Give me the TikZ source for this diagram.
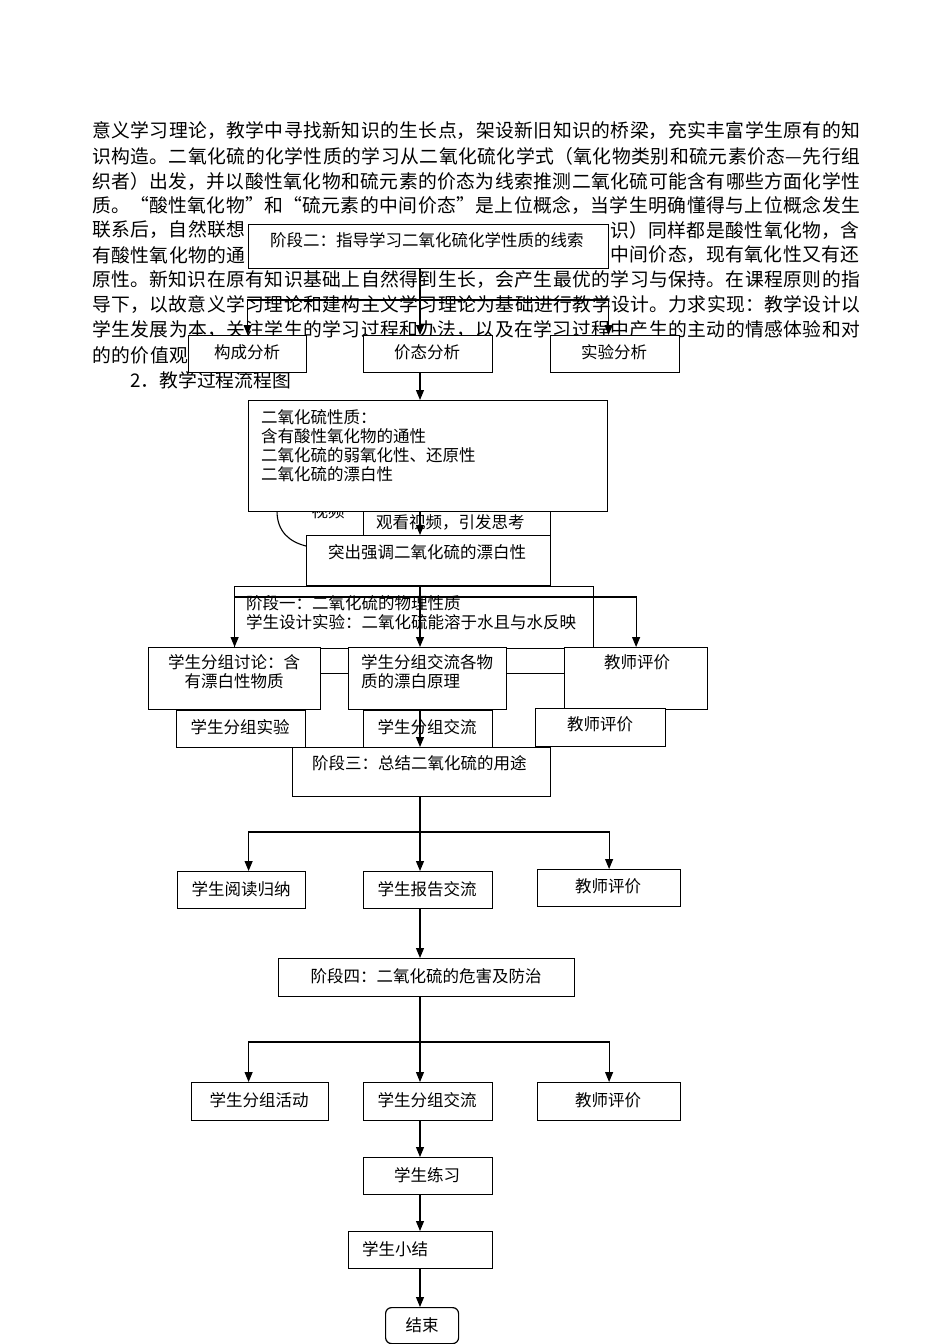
\documentclass[tikz,border=0pt]{standalone}
\usepackage{fontspec}
\setmainfont{Noto Sans CJK SC}
\usetikzlibrary{arrows.meta}
\XeTeXlinebreaklocale "zh"
\XeTeXlinebreakskip=0pt plus 3pt
\tikzset{
  bx/.style={draw=black, line width=1.2pt, fill=white, inner sep=0pt, anchor=north west},
  bt/.style={inner sep=0pt, font=\fontsize{16.5}{19}\selectfont},
  pl/.style={inner sep=0pt, font=\fontsize{18.8}{24.9}\selectfont},
  arr/.style={line width=1.1pt, -{Triangle[length=10pt,width=8pt]}},
  ln/.style={line width=1.1pt},
}
\newcommand\rbox[5]{\node[bx, minimum width={#4-#2}, minimum height={#5-#3}] (#1) at (#2,#3) {};}
\newcommand\plw[5]{\node[pl, anchor=#2] (#1) at (#3) {\parbox{#4}{\parfillskip=0pt\relax #5}};}
\begin{document}
\begin{tikzpicture}[x=1pt,y=-1pt]
\useasboundingbox (0,0) rectangle (950,1344);
\fill[white] (0,0) rectangle (950,1344);
% paragraph
\plw{p1}{west}{92,131}{768pt}{意义学习理论，教学中寻找新知识的生长点，架设新旧知识的桥梁，充实丰富学生原有的知}
\plw{p2}{west}{92,156}{768pt}{识构造。二氧化硫的化学性质的学习从二氧化硫化学式（氧化物类别和硫元素价态—先行组}
\plw{p3}{west}{92,181}{768pt}{织者）出发，并以酸性氧化物和硫元素的价态为线索推测二氧化硫可能含有哪些方面化学性}
\plw{p4}{west}{92,205.5}{768pt}{质。“酸性氧化物”和“硫元素的中间价态”是上位概念，当学生明确懂得与上位概念发生}
\plw{p5a}{west}{92,230}{153.6pt}{联系后，自然联想}
\plw{p5b}{east}{860,230}{249.6pt}{识）同样都是酸性氧化物，含}
\plw{p6a}{west}{92,255}{153.6pt}{有酸性氧化物的通}
\plw{p6b}{east}{860,255}{249.6pt}{中间价态，现有氧化性又有还}
\plw{p7}{west}{92,280}{768pt}{原性。新知识在原有知识基础上自然得到生长，会产生最优的学习与保持。在课程原则的指}
\plw{p8}{west}{92,305}{768pt}{导下，以故意义学习理论和建构主义学习理论为基础进行教学设计。力求实现：教学设计以}
\plw{p9}{west}{92,330}{768pt}{学生发展为本，关注学生的学习过程和办法，以及在学习过程中产生的主动的情感体验和对}
\plw{p10}{west}{92,355}{96pt}{的的价值观}
\node[pl, anchor=west] (p11) at (130,380) {2．教学过程流程图};
% hidden shapes behind box B
\coordinate (va) at (277,511);
\coordinate (vb) at (306,546);
\draw[ln] (va) .. controls (277,532) and (290,542) .. (vb);
\node[bt] (vt) at (328,511) {视频};
\rbox{GK}{363}{470}{550}{560}
\node[bt, anchor=west] (GKt) at (376,522) {观看视频，引发思考};
% stage two
\rbox{A}{248}{224}{608}{268}
\node[bt, anchor=west] (At) at (270,240) {阶段二：指导学习二氧化硫化学性质的线索};
\rbox{GC}{188}{335}{306}{372}
\node[bt] (GCt) at (247,352) {构成分析};
\rbox{JT}{363}{335}{492}{372}
\node[bt] (JTt) at (427,352) {价态分析};
\rbox{SY}{550}{335}{679}{372}
\node[bt] (SYt) at (614,352) {实验分析};
\rbox{B}{248}{400}{607}{511}
\node[bt, anchor=north west, align=left] (Bt) at (261,409.5) {二氧化硫性质：\\含有酸性氧化物的通性\\二氧化硫的弱氧化性、还原性\\二氧化硫的漂白性};
\rbox{C}{306}{535}{550}{585}
\node[bt, anchor=west] (Ct) at (328,552) {突出强调二氧化硫的漂白性};
% stage one
\rbox{H}{310}{648}{580}{673}
\rbox{D}{234}{586}{593}{648}
\node[bt, anchor=north west, align=left] (Dt) at (246,595.5) {阶段一：二氧化硫的物理性质\\学生设计实验：二氧化硫能溶于水且与水反映};
\rbox{L2}{148}{647}{320}{709}
\node[bt, anchor=north, align=center] (L2t) at (234,654.5) {学生分组讨论：含\\有漂白性物质};
\rbox{M2}{348}{647}{506}{709}
\node[bt, anchor=north west, align=left] (M2t) at (361,654.5) {学生分组交流各物\\质的漂白原理};
\rbox{R2}{564}{647}{707}{709}
\node[bt] (R2t) at (637,662) {教师评价};
\rbox{L3}{176}{710}{305}{747}
\node[bt] (L3t) at (240,727) {学生分组实验};
\rbox{M3}{363}{710}{492}{747}
\node[bt] (M3t) at (427,727) {学生分组交流};
\rbox{R3}{535}{708}{665}{746}
\node[bt] (R3t) at (600,724) {教师评价};
% stage three
\rbox{S3}{292}{747}{550}{796}
\node[bt, anchor=west] (S3t) at (312,763) {阶段三：总结二氧化硫的用途};
\rbox{R4L}{177}{871}{305}{908}
\node[bt] (R4Lt) at (241,889) {学生阅读归纳};
\rbox{R4M}{363}{871}{492}{908}
\node[bt] (R4Mt) at (427,889) {学生报告交流};
\rbox{R4R}{537}{869}{680}{906}
\node[bt] (R4Rt) at (608,886) {教师评价};
% stage four
\rbox{S4}{278}{958}{574}{996}
\node[bt] (S4t) at (426,976) {阶段四：二氧化硫的危害及防治};
\rbox{R5L}{191}{1082}{328}{1120}
\node[bt] (R5Lt) at (259,1100) {学生分组活动};
\rbox{R5M}{363}{1082}{492}{1120}
\node[bt] (R5Mt) at (427,1100) {学生分组交流};
\rbox{R5R}{537}{1082}{680}{1120}
\node[bt] (R5Rt) at (608,1100) {教师评价};
\rbox{LX}{363}{1157}{492}{1194}
\node[bt] (LXt) at (427,1175) {学生练习};
\rbox{XJ}{348}{1231}{492}{1268}
\node[bt, anchor=west] (XJt) at (362,1249) {学生小结};
\node[bx, rounded corners=6pt, minimum width=73pt, minimum height=36pt, font=\fontsize{16.5}{19}\selectfont] (JS) at (385,1307) {结束};
% connectors
\coordinate (cx) at (420,0);
\coordinate (b1) at (420,300);
\coordinate (b2) at (420,597);
\coordinate (b3) at (420,832);
\coordinate (b4) at (420,1042);
\draw[arr] (A.south -| cx) -- (JT.north -| cx);
\draw[arr] (b1) -| (GC.north);
\draw[arr] (b1) -| ([xshift=-6.5pt]SY.north);
\draw[arr] (JT.south -| cx) -- (B.north -| cx);
\draw[arr] (B.south -| cx) -- (C.north -| cx);
\draw[arr] (C.south -| cx) -- (M2.north -| cx);
\draw[arr] (b2) -| (L2.north);
\draw[arr] (b2) -| (R2.north);
\draw[arr] (M2.south -| cx) -- (S3.north -| cx);
\draw[arr] (S3.south -| cx) -- (R4M.north -| cx);
\draw[arr] (b3) -| ([xshift=7pt]R4L.north);
\draw[arr] (b3) -| (R4R.north);
\draw[arr] (R4M.south -| cx) -- (S4.north -| cx);
\draw[arr] (S4.south -| cx) -- (R5M.north -| cx);
\draw[arr] (b4) -| ([xshift=-11.5pt]R5L.north);
\draw[arr] (b4) -| (R5R.north);
\draw[arr] (R5M.south -| cx) -- (LX.north -| cx);
\draw[arr] (LX.south -| cx) -- (XJ.north -| cx);
\draw[arr] (XJ.south -| cx) -- (JS.north -| cx);
\end{tikzpicture}
\end{document}
